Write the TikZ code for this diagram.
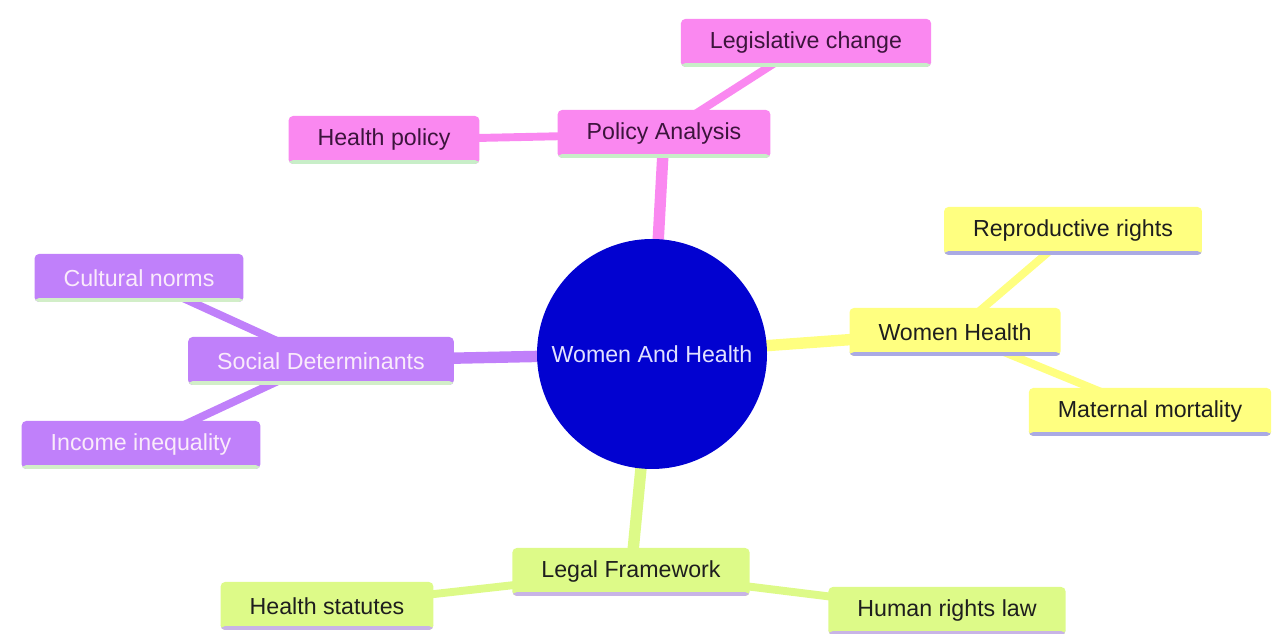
\documentclass[tikz,border=0pt]{standalone}
\usepackage{fontspec}
\setmainfont{Liberation Sans}
\usetikzlibrary{backgrounds}
\definecolor{rootblue}{RGB}{2,2,208}
\definecolor{roottext}{RGB}{225,225,255}
\definecolor{pinkbox}{RGB}{250,136,240}
\definecolor{pinktext}{RGB}{60,20,60}
\definecolor{pinkline}{RGB}{200,238,200}
\definecolor{purplebox}{RGB}{192,128,250}
\definecolor{purpletext}{RGB}{250,235,250}
\definecolor{purpleline}{RGB}{210,238,200}
\definecolor{yellowbox}{RGB}{255,255,128}
\definecolor{yellowtext}{RGB}{30,30,30}
\definecolor{yellowline}{RGB}{170,170,228}
\definecolor{greenbox}{RGB}{221,250,136}
\definecolor{greentext}{RGB}{30,30,30}
\definecolor{greenline}{RGB}{200,180,230}
\tikzset{
  leafbase/.style={rounded corners=2.5pt, inner xsep=0.58cm, minimum height=0.96cm,
    font=\fontsize{13.2}{15}\selectfont},
  leaf/.style n args={3}{leafbase, fill=#1, text=#2,
    path picture={\fill[#3] (path picture bounding box.south west) rectangle
      ([yshift=2.2pt]path picture bounding box.south east);}},
  trunk/.style={line width=6.5pt},
  twig/.style={line width=4.5pt}
}
\begin{document}
\begin{tikzpicture}
\useasboundingbox (0,0) rectangle (25.48,12.68);

\node[circle, fill=rootblue, text=roottext, minimum size=4.6cm,
  font=\fontsize{13.2}{15}\selectfont] (root) at (13.04,5.6) {Women And Health};

\begin{scope}[every node/.style={leaf={pinkbox}{pinktext}{pinkline}}]
\node (policy) at (13.28,10.0) {Policy Analysis};
\node (legis) at (16.12,11.82) {Legislative change};
\node (hpolicy) at (7.68,9.88) {Health policy};
\end{scope}

\begin{scope}[every node/.style={leaf={yellowbox}{yellowtext}{yellowline}}]
\node (womenh) at (19.10,6.04) {Women Health};
\node (repro) at (21.46,8.06) {Reproductive rights};
\node (maternal) at (23.0,4.44) {Maternal mortality};
\end{scope}

\begin{scope}[every node/.style={leaf={purplebox}{purpletext}{purpleline}}]
\node (social) at (6.42,5.46) {Social Determinants};
\node (cultural) at (2.78,7.12) {Cultural norms};
\node (income) at (2.82,3.78) {Income inequality};
\end{scope}

\begin{scope}[every node/.style={leaf={greenbox}{greentext}{greenline}}]
\node (legal) at (12.62,1.24) {Legal Framework};
\node (statutes) at (6.54,0.56) {Health statutes};
\node (humanr) at (18.94,0.46) {Human rights law};
\end{scope}

\begin{scope}[on background layer]
\draw[pinkbox, trunk] (root.center) -- (policy.center);
\draw[pinkbox, twig] (policy.center) -- (legis.center);
\draw[pinkbox, twig] (policy.center) -- (hpolicy.center);
\draw[yellowbox, trunk] (root.center) -- (womenh.center);
\draw[yellowbox, twig] (womenh.center) -- (repro.center);
\draw[yellowbox, twig] (womenh.center) -- (maternal.center);
\draw[purplebox, trunk] (root.center) -- (social.center);
\draw[purplebox, twig] (social.center) -- (cultural.center);
\draw[purplebox, twig] (social.center) -- (income.center);
\draw[greenbox, trunk] (root.center) -- (legal.center);
\draw[greenbox, twig] (legal.center) -- (statutes.center);
\draw[greenbox, twig] (legal.center) -- (humanr.center);
\end{scope}
\end{tikzpicture}
\end{document}
